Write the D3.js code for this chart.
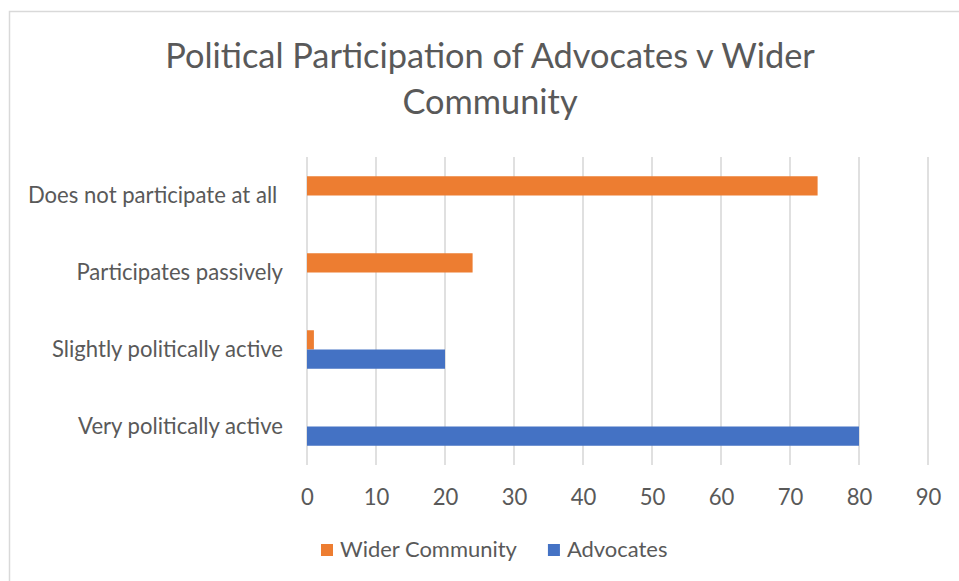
<!DOCTYPE html>
<html>
<head>
<meta charset="utf-8">
<script src="https://cdn.jsdelivr.net/npm/d3@7"></script>
<style>
  html, body { margin: 0; padding: 0; background: #fff; }
  svg { display: block; }
  text { font-family: Lato, "Open Sans", "Noto Sans", sans-serif; fill: #595959; }
</style>
</head>
<body>
<svg id="chart" width="959" height="581"></svg>
<script>
// Categories listed bottom-to-top, as the value axis grows upward in the category order
const categories = [
  "Very politically active",
  "Slightly politically active",
  "Participates passively",
  "Does not participate at all "
];
const seriesNames = ["Wider Community", "Advocates"];
const widerCommunity = [0, 1, 24, 74];
const advocates = [80, 20, 0, 0];
const xTicks = [0, 10, 20, 30, 40, 50, 60, 70, 80, 90];
const titleLines = ["Political Participation of Advocates v Wider", "Community"];

const colors = { "Wider Community": "#ED7D31", "Advocates": "#4472C4" };
const seriesValues = { "Wider Community": widerCommunity, "Advocates": advocates };

const W = 959, H = 581;
const plot = { left: 307, right: 928, top: 157, bottom: 465 };

const svg = d3.select("#chart");

// Outer chart frame (top and left edges visible)
svg.append("path")
  .attr("d", `M9.5,${H} L9.5,11.5 L${W},11.5`)
  .attr("fill", "none")
  .attr("stroke", "#d9d9d9")
  .attr("stroke-width", 1.5);

// Fit a font size so that a sample string spans a given pixel width
function fitSize(sample, width, base) {
  const t = svg.append("text").attr("font-size", base).text(sample);
  const w = t.node().getComputedTextLength();
  t.remove();
  return base * width / w;
}

const x = d3.scaleLinear().domain([0, 90]).range([plot.left, plot.right]);
const y = d3.scaleBand()
  .domain(categories.slice().reverse())
  .range([plot.top, plot.bottom])
  .paddingInner(0).paddingOuter(0);
const inner = d3.scaleBand()
  .domain(seriesNames)
  .range([y.bandwidth() * 0.25, y.bandwidth() * 0.75]);

// Vertical gridlines
svg.append("g")
  .selectAll("line")
  .data(xTicks)
  .join("line")
  .attr("x1", d => x(d)).attr("x2", d => x(d))
  .attr("y1", plot.top).attr("y2", plot.bottom)
  .attr("stroke", "#d9d9d9")
  .attr("stroke-width", 1.6);

// Bars
const rows = categories.map((c, i) => seriesNames.map(s => ({ cat: c, series: s, value: seriesValues[s][i] }))).flat();
svg.append("g")
  .selectAll("rect")
  .data(rows.filter(d => d.value > 0))
  .join("rect")
  .attr("x", x(0))
  .attr("y", d => y(d.cat) + inner(d.series))
  .attr("width", d => x(d.value) - x(0))
  .attr("height", inner.bandwidth())
  .attr("fill", d => colors[d.series]);

// Category labels
const labelSize = fitSize("Very politically active", 205, 20);
svg.append("g")
  .selectAll("text")
  .data(categories)
  .join("text")
  .attr("x", 283)
  .attr("y", d => y(d) + y.bandwidth() / 2 + 2)
  .attr("text-anchor", "end")
  .attr("dominant-baseline", "middle")
  .attr("font-size", labelSize)
  .style("white-space", "pre")
  .text(d => d);

// Value axis labels
const xAxis = d3.axisBottom(x).tickValues(xTicks).tickSize(0).tickPadding(0).tickFormat(d3.format("d"));
const gx = svg.append("g").attr("transform", `translate(0,${plot.bottom})`).call(xAxis);
gx.select(".domain").remove();
gx.selectAll("text")
  .attr("y", 32)
  .attr("dy", "0.35em")
  .attr("font-size", labelSize)
  .attr("font-family", null)
  .style("fill", "#595959");

// Title
const titleSize = fitSize(titleLines[0], 650, 30);
svg.append("g")
  .selectAll("text")
  .data(titleLines)
  .join("text")
  .attr("x", 490)
  .attr("y", (d, i) => 59 + i * 46)
  .attr("text-anchor", "middle")
  .attr("dominant-baseline", "middle")
  .attr("font-size", titleSize)
  .text(d => d);

// Legend
const legendSize = fitSize("Wider Community", 177, 20);
const legend = svg.append("g").attr("transform", "translate(321,550)");
let lx = 0;
seriesNames.forEach(s => {
  const g = legend.append("g").attr("transform", `translate(${lx},0)`);
  g.append("rect").attr("x", 0).attr("y", -6).attr("width", 12).attr("height", 12).attr("fill", colors[s]);
  const t = g.append("text").attr("x", 19).attr("y", 1)
    .attr("dominant-baseline", "middle")
    .attr("font-size", legendSize)
    .text(s);
  lx += 19 + t.node().getComputedTextLength() + 31;
});
</script>
</body>
</html>
